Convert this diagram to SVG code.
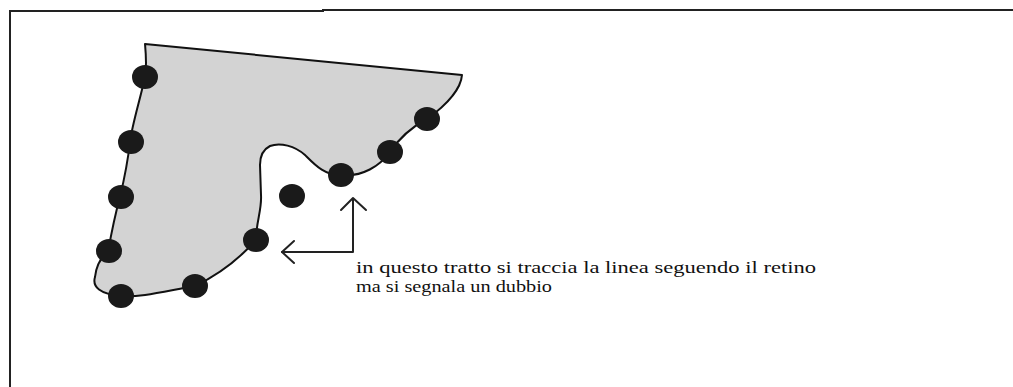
<svg xmlns="http://www.w3.org/2000/svg" width="1013" height="387" viewBox="0 0 1013 387">
<style>
.frame{fill:none;stroke:#222;stroke-width:2}
.shape{fill:#d3d3d3;stroke:#111;stroke-width:2;stroke-linejoin:round}
.dot{fill:#1a1a1a}
.conn{fill:none;stroke:#222;stroke-width:2;stroke-linecap:round;stroke-linejoin:round}
.lbl{font-family:"Liberation Serif","Times New Roman",serif;font-size:17px;fill:#111}
</style>
<g id="frame">
<path class="frame" d="M10,387 L10,11 L323,11 L323,10 L1013,10"/>
</g>
<g id="area">
<path class="shape" d="M145,44 L462,75 C461,88 448,104 427,119 C410,128 398,140 390,152 C380,166 362,177 342,175 C325,176 315,165 305,155 C295,146 280,142 270,146 C262,150 260,158 260,165 L261,195 C262,210 256,222 256,240 C240,258 218,275 195,286 C170,290 140,298 121,296 C100,294 92,287 95,277 C96,268 100,258 108,252 C111,235 115,215 120,197 C124,180 128,160 130,142 C132,125 140,100 145,77 C147,65 146,55 145,44 Z"/>
</g>
<g id="dots">
<ellipse class="dot" cx="145" cy="77" rx="13" ry="12"/>
<ellipse class="dot" cx="131" cy="142" rx="13" ry="12"/>
<ellipse class="dot" cx="121" cy="197" rx="13" ry="12"/>
<ellipse class="dot" cx="109" cy="251" rx="13" ry="12"/>
<ellipse class="dot" cx="121" cy="296" rx="13" ry="12"/>
<ellipse class="dot" cx="195" cy="286" rx="13" ry="12"/>
<ellipse class="dot" cx="256" cy="240" rx="13" ry="12"/>
<ellipse class="dot" cx="292" cy="196" rx="13" ry="12"/>
<ellipse class="dot" cx="341" cy="175" rx="13" ry="12"/>
<ellipse class="dot" cx="390" cy="152" rx="13" ry="12"/>
<ellipse class="dot" cx="427" cy="119" rx="13" ry="12"/>
</g>
<g id="connectors">
<path class="conn" d="M353,199 L353,252 L282,252"/>
<path class="conn" d="M341,210 L353,198 L366,210"/>
<path class="conn" d="M294,241 L282,252 L294,263"/>
</g>
<g id="label">
<text class="lbl" x="356" y="273" textLength="460" lengthAdjust="spacingAndGlyphs">in questo tratto si traccia la linea seguendo il retino</text>
<text class="lbl" x="356" y="292" textLength="196" lengthAdjust="spacingAndGlyphs">ma si segnala un dubbio</text>
</g>
</svg>
